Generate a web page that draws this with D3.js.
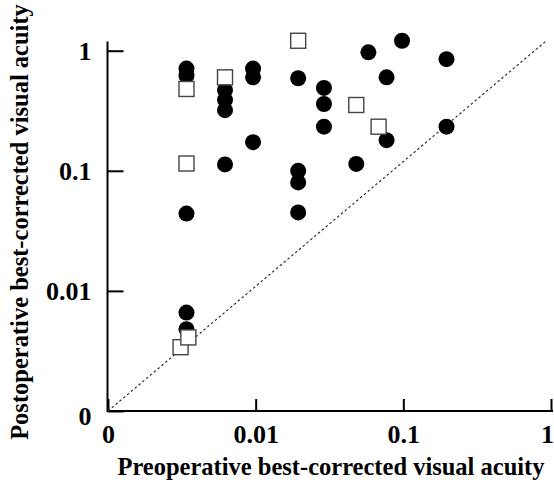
<!DOCTYPE html>
<html>
<head>
<title>Pre vs post visual acuity</title>
<script src="https://cdnjs.cloudflare.com/ajax/libs/d3/7.8.5/d3.min.js"></script>
<style>
  body { margin: 0; background: #fff; }
  text { font-family: "Liberation Serif", "Times New Roman", serif; font-weight: bold; fill: #000; }
</style>
</head>
<body>
<script>
	// filled circles
	var circlePre  = [0.0034, 0.0034, 0.0034, 0.0034, 0.0034,
	                  0.0062, 0.0062, 0.0062, 0.0062,
	                  0.0096, 0.0096, 0.0096,
	                  0.0194, 0.0194, 0.0194, 0.0194,
	                  0.029, 0.029, 0.029,
	                  0.048, 0.058, 0.077, 0.077, 0.098, 0.196, 0.196];
	var circlePost = [0.71, 0.62, 0.044, 0.0066, 0.0048,
	                  0.47, 0.39, 0.32, 0.113,
	                  0.71, 0.60, 0.173,
	                  0.59, 0.10, 0.080, 0.045,
	                  0.49, 0.36, 0.233,
	                  0.114, 0.97, 0.60, 0.18, 1.21, 0.85, 0.233];
	// open squares
	var squarePre  = [0.0034, 0.0034, 0.0031, 0.0035, 0.0062, 0.0194, 0.048, 0.068];
	var squarePost = [0.48, 0.115, 0.0034, 0.0041, 0.60, 1.21, 0.353, 0.233];

	var tickValues = [0.001, 0.01, 0.1, 1];
	var tickLabels = ["0", "0.01", "0.1", "1"];
	var diagX = [0.001, 0.93];
	var diagY = [0.001, 1.21];

	var width = 554, height = 482;

	var svg = d3.select("body").append("svg")
		.attr("width", width)
		.attr("height", height);

	var x = d3.scaleLog().domain([0.001, 1]).range([108, 551]);
	var y = d3.scaleLog().domain([0.001, 1]).range([411, 50.7]);

	var fmt = function(d, i) { return tickLabels[i]; };

	// axis lines (a bit longer than the tick range)
	svg.append("line")
		.attr("x1", 107.5).attr("x2", 107.5)
		.attr("y1", 41.5).attr("y2", y(0.001) + 1)
		.attr("stroke", "#000").attr("stroke-width", 2);
	svg.append("line")
		.attr("x1", 107).attr("x2", 553)
		.attr("y1", 411).attr("y2", 411)
		.attr("stroke", "#000").attr("stroke-width", 2);

	var xAxis = svg.append("g")
		.attr("transform", "translate(0,411)")
		.call(d3.axisBottom(x).tickValues(tickValues).tickFormat(fmt)
			.tickSizeInner(-12).tickSizeOuter(0).tickPadding(14));
	var yAxis = svg.append("g")
		.attr("transform", "translate(107.5,0)")
		.call(d3.axisLeft(y).tickValues(tickValues).tickFormat(fmt)
			.tickSizeInner(-16).tickSizeOuter(0).tickPadding(16));

	[xAxis, yAxis].forEach(function(g) {
		g.select(".domain").remove();
		g.selectAll(".tick line").attr("stroke", "#000").attr("stroke-width", 2);
		g.selectAll(".tick text").style("font-size", "26px").attr("fill", "#000");
	});
	// lowest y label sits a little under the axis
	yAxis.selectAll(".tick text").filter(function(d) { return d === 0.001; })
		.attr("dy", "0.5em");
	// keep the last x label inside the page
	xAxis.selectAll(".tick text").filter(function(d) { return d === 1; })
		.attr("dx", -4);

	// line of equality
	svg.append("line")
		.attr("x1", x(diagX[0])).attr("y1", y(diagY[0]))
		.attr("x2", x(diagX[1])).attr("y2", y(diagY[1]))
		.attr("stroke", "#333")
		.attr("stroke-width", 1.2)
		.attr("stroke-dasharray", "2.5,2.5");

	svg.selectAll(".dot")
		.data(circlePre)
		.enter().append("circle")
		.attr("class", "dot")
		.attr("cx", function(d) { return x(d); })
		.attr("cy", function(d, i) { return y(circlePost[i]); })
		.attr("r", 8)
		.attr("fill", "#000");

	var s = 15;
	svg.selectAll(".sq")
		.data(squarePre)
		.enter().append("rect")
		.attr("class", "sq")
		.attr("x", function(d) { return x(d) - s / 2; })
		.attr("y", function(d, i) { return y(squarePost[i]) - s / 2; })
		.attr("width", s).attr("height", s)
		.attr("fill", "#fff")
		.attr("stroke", "#444")
		.attr("stroke-width", 1.4);

	// axis titles
	svg.append("text")
		.attr("x", 331).attr("y", 475)
		.attr("text-anchor", "middle")
		.style("font-size", "24.5px")
		.text("Preoperative best-corrected visual acuity");

	svg.append("text")
		.attr("transform", "translate(28,222) rotate(-90)")
		.attr("text-anchor", "middle")
		.style("font-size", "24.5px")
		.text("Postoperative best-corrected visual acuity");
</script>
</body>
</html>
